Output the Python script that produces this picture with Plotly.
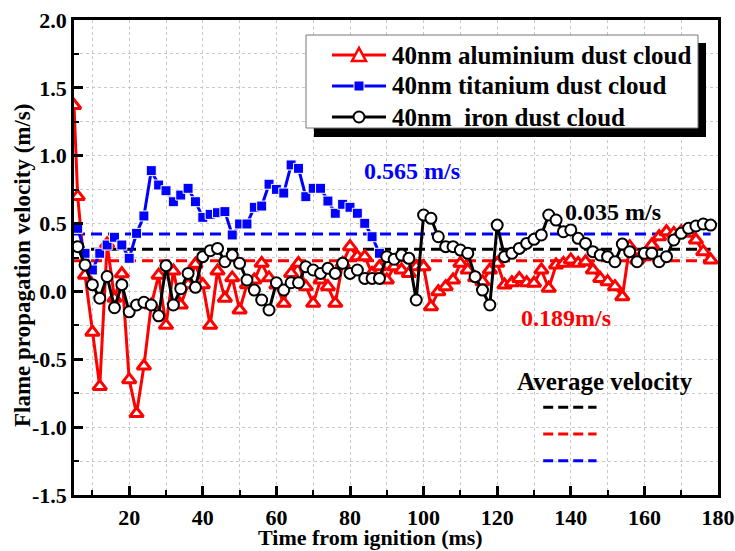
import plotly.graph_objects as go

# ---------------- data ----------------
time_al = [5, 6, 8, 10, 12, 14, 16, 18, 20, 22, 24, 26, 28, 30, 32, 34, 36, 38, 40, 42, 44, 46, 48,
           50, 52, 54, 56, 58, 60, 62, 64, 66, 68, 70, 72, 74, 76, 78, 80, 82, 84, 86, 88, 90, 92, 94,
           96, 98, 100, 102, 104, 106, 108, 110, 112, 114, 116, 118, 120, 122, 124, 126, 128, 130, 132,
           134, 136, 138, 140, 142, 144, 146, 148, 150, 152, 154, 156, 158, 160, 162, 164, 166, 168, 170,
           172, 174, 176, 178]
vel_al = [1.37, 0.70, 0.12, -0.30, -0.70, 0.35, -0.05, 0.13, -0.65, -0.90, -0.55, -0.10, 0.12, -0.25,
          0.15, -0.10, 0.05, 0.20, 0.05, -0.25, 0.15, -0.05, 0.10,
          -0.137, 0.05, 0.084, 0.207, 0.10, 0.047, -0.088, 0.133, 0.207, 0.035, -0.088, 0.084, 0.035,
          -0.088, 0.207, 0.330, 0.256, 0.256, 0.133, 0.182, 0.084, 0.182, 0.158, 0.133, 0.182, 0.182,
          -0.112, -0.002, 0.035, 0.084, 0.207, 0.158, 0.10, 0.072, 0.158, 0.207, 0.047, 0.064, 0.096,
          0.064, 0.060, 0.158, 0.023, 0.195, 0.207, 0.232, 0.207, 0.219, 0.158, 0.096, 0.072, 0.035,
          -0.039, 0.330, 0.232, 0.256, 0.342, 0.403, 0.440, 0.428, 0.440, 0.428, 0.379, 0.293, 0.232]

time_ti = [6, 8, 10, 12, 14, 16, 18, 20, 22, 24, 26, 28, 30, 32, 34, 36, 38, 40, 42, 44, 46, 48, 50,
           52, 54, 56, 58, 60, 62, 64, 66, 68, 70, 72, 74, 76, 78, 80, 82, 84, 86, 88]
vel_ti = [0.465, 0.281, 0.158, 0.281, 0.342, 0.399, 0.342, 0.244, 0.428, 0.556, 0.890, 0.784, 0.742,
          0.661, 0.710, 0.760, 0.661, 0.546, 0.568, 0.580, 0.588, 0.416, 0.497, 0.497, 0.620, 0.629,
          0.790, 0.752, 0.725, 0.932, 0.907, 0.698, 0.760, 0.760, 0.666, 0.576, 0.642, 0.620, 0.576,
          0.502, 0.403, 0.281]

time_fe = [6, 8, 10, 12, 14, 16, 18, 20, 22, 24, 26, 28, 30, 32, 34, 36, 38, 40, 42, 44, 46, 48, 50,
           52, 54, 56, 58, 60, 62, 64, 66, 68, 70, 72, 74, 76, 78, 80, 82, 84, 86, 88, 90, 92, 94, 96,
           98, 100, 102, 104, 106, 108, 110, 112, 114, 116, 118, 120, 122, 124, 126, 128, 130, 132, 134,
           136, 138, 140, 142, 144, 146, 148, 150, 152, 154, 156, 158, 160, 162, 164, 166, 168, 170, 172,
           174, 176, 178]
vel_fe = [0.33, 0.195, 0.05, -0.05, 0.11, -0.12, 0.05, -0.15, -0.10, -0.08, -0.10, -0.18, 0.19, -0.10,
          0.02, 0.133, 0.03, 0.256, 0.30, 0.317, 0.219, 0.268, 0.207,
          0.084, 0.010, -0.063, -0.137, 0.064, 0.010, 0.064, 0.064, 0.182, 0.158, 0.133, 0.170, 0.133,
          0.207, 0.133, 0.158, 0.096, 0.096, 0.096, 0.256, 0.237, 0.268, 0.244, -0.063, 0.563, 0.539,
          0.403, 0.330, 0.330, 0.305, 0.281, 0.109, 0.010, -0.100, 0.489, 0.256, 0.281, 0.317, 0.354,
          0.384, 0.416, 0.563, 0.526, 0.440, 0.453, 0.391, 0.354, 0.293, 0.268, 0.256, 0.219, 0.349,
          0.293, 0.219, 0.281, 0.281, 0.219, 0.256, 0.379, 0.428, 0.465, 0.482, 0.497, 0.489]

avg_levels = [0.310, 0.226, 0.423]          # iron, aluminium, titanium
avg_span = [5, 178]

series_names = ["40nm aluminium dust cloud", "40nm titanium dust cloud", "40nm  iron dust cloud"]
x_ticks = [20, 40, 60, 80, 100, 120, 140, 160, 180]
y_ticks = [-1.5, -1.0, -0.5, 0.0, 0.5, 1.0, 1.5, 2.0]
y_tick_labels = ["-1.5", "-1.0", "-0.5", "0.0", "0.5", "1.0", "1.5", "2.0"]

RED, BLUE, BLACK = "#ff0000", "#0000ff", "#000000"
FONT = "Liberation Serif"

FIG_W, FIG_H = 735, 551
L, T, W, H = 74, 20, 644, 475          # plot area in pixels


def px(xp):
    return (xp - L) / W


def py(yp):
    return 1 - (yp - T) / H


fig = go.Figure()

# average (dashed) lines
for lvl, col in zip(avg_levels, [BLACK, RED, BLUE]):
    fig.add_trace(go.Scatter(x=avg_span, y=[lvl, lvl], mode="lines", showlegend=False,
                             line=dict(color=col, width=3, dash="11px,6px"), hoverinfo="skip"))

fig.add_trace(go.Scatter(x=time_al, y=vel_al, name=series_names[0], mode="lines+markers",
                         line=dict(color=RED, width=3),
                         marker=dict(symbol="triangle-up", size=12, color="white",
                                     line=dict(color=RED, width=3))))
fig.add_trace(go.Scatter(x=time_ti, y=vel_ti, name=series_names[1], mode="lines+markers",
                         line=dict(color=BLUE, width=3),
                         marker=dict(symbol="square", size=10, color=BLUE,
                                     line=dict(color="white", width=1))))
fig.add_trace(go.Scatter(x=time_fe, y=vel_fe, name=series_names[2], mode="lines+markers",
                         line=dict(color=BLACK, width=3),
                         marker=dict(symbol="circle", size=11, color="white",
                                     line=dict(color=BLACK, width=2))))

axis_common = dict(
    showline=True, linecolor="black", linewidth=2.5, mirror=True,
    ticks="inside", ticklen=9, tickwidth=2.5, tickcolor="black",
    showgrid=True, gridcolor="#c8c8c8", gridwidth=1, griddash="dot",
    zeroline=False, automargin=False, ticklabeloverflow="allow",
    tickfont=dict(family=FONT, size=22, color="black", weight="bold"),
)

fig.update_xaxes(range=[5, 180], tickvals=x_ticks, ticklabelstandoff=1,
                 minor=dict(dtick=10, tick0=0, ticks="inside", ticklen=5, tickwidth=2,
                            tickcolor="black", showgrid=True, gridcolor="#c8c8c8",
                            griddash="dot", gridwidth=1),
                 **axis_common)
fig.update_yaxes(range=[-1.5, 2.0], tickvals=y_ticks, ticktext=y_tick_labels, ticklabelstandoff=0,
                 minor=dict(dtick=0.25, tick0=0, ticks="inside", ticklen=5, tickwidth=2,
                            tickcolor="black", showgrid=True, gridcolor="#c8c8c8",
                            griddash="dot", gridwidth=1),
                 **axis_common)

# axis titles
fig.add_annotation(xref="paper", yref="paper", x=px(370), y=py(537), showarrow=False,
                   text="Time from ignition (ms)", xanchor="center", yanchor="middle",
                   font=dict(family=FONT, size=22, color="black", weight="bold"))
fig.add_annotation(xref="paper", yref="paper", x=px(22), y=py(266), showarrow=False,
                   text="Flame propagation velocity (m/s)", textangle=-90,
                   xanchor="center", yanchor="middle",
                   font=dict(family=FONT, size=23, color="black", weight="bold"))

ann_font = dict(family=FONT, size=24, weight="bold")
annotations = [
    dict(x=96.8, y=0.887, text="0.565 m/s", font=dict(color=BLUE, **ann_font)),
    dict(x=151.5, y=0.585, text="0.035 m/s", font=dict(color=BLACK, **ann_font)),
    dict(x=138.7, y=-0.196, text="0.189m/s", font=dict(color=RED, **ann_font)),
    dict(x=149.3, y=-0.667, text="Average velocity",
         font=dict(color=BLACK, family=FONT, size=25, weight="bold")),
]
for a in annotations:
    fig.add_annotation(xref="x", yref="y", showarrow=False, **a)

# key dashes under "Average velocity"
for yk, col in zip([-0.854, -1.051, -1.247], [BLACK, RED, BLUE]):
    fig.add_shape(type="line", xref="x", yref="y", x0=132.5, x1=147.0, y0=yk, y1=yk,
                  line=dict(color=col, width=3, dash="10px,5px"))

# ---------------- hand-built legend box ----------------
fig.add_shape(type="rect", xref="paper", yref="paper", layer="above",
              x0=px(314), x1=px(706), y0=py(137), y1=py(43),
              fillcolor="black", line=dict(width=0))
fig.add_shape(type="rect", xref="paper", yref="paper", layer="above",
              x0=px(306), x1=px(698), y0=py(128), y1=py(35),
              fillcolor="white", line=dict(color="#777", width=1))

rows_y = [55, 86, 117]
colors = [RED, BLUE, BLACK]
for name, ry, col in zip(series_names, rows_y, colors):
    fig.add_shape(type="line", xref="paper", yref="paper", layer="above",
                  x0=px(332), x1=px(386), y0=py(ry), y1=py(ry),
                  line=dict(color=col, width=3))
    fig.add_annotation(xref="paper", yref="paper", x=px(390), y=py(ry), showarrow=False,
                       text=name, xanchor="left", yanchor="middle",
                       font=dict(family=FONT, size=25, color="black", weight="bold"))
cx = 359
r = rows_y[0]
fig.add_shape(type="path", xref="paper", yref="paper", layer="above",
              path=f"M {px(cx-7)} {py(r+6)} L {px(cx+7)} {py(r+6)} L {px(cx)} {py(r-7)} Z",
              fillcolor="white", line=dict(color=RED, width=2.5))
r = rows_y[1]
fig.add_shape(type="rect", xref="paper", yref="paper", layer="above",
              x0=px(cx-5), x1=px(cx+5), y0=py(r+5), y1=py(r-5),
              fillcolor=BLUE, line=dict(color="white", width=1))
r = rows_y[2]
fig.add_shape(type="circle", xref="paper", yref="paper", layer="above",
              x0=px(cx-5.5), x1=px(cx+5.5), y0=py(r+5.5), y1=py(r-5.5),
              fillcolor="white", line=dict(color=BLACK, width=2))

fig.update_layout(
    width=FIG_W, height=FIG_H,
    margin=dict(l=L, r=FIG_W - L - W, t=T, b=FIG_H - T - H),
    paper_bgcolor="white", plot_bgcolor="white",
    showlegend=False,
)

# remove the default 8 px page margin so the 735x551 figure fills the window exactly
fig.write_html("out.html",
               config={"displayModeBar": False},
               post_script="document.body.style.margin='0';"
                           "document.body.style.overflow='hidden';")
